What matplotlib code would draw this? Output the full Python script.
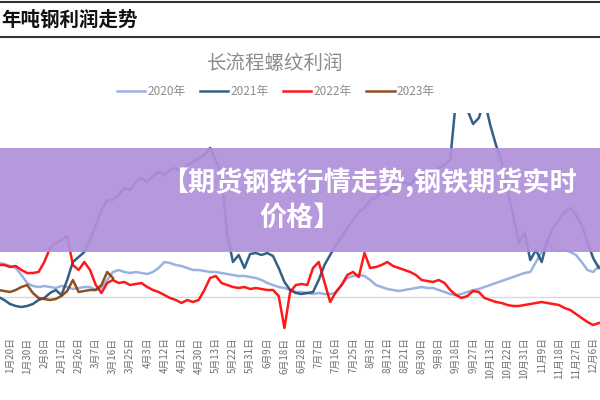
import numpy as np
import matplotlib
matplotlib.use("Agg")
import matplotlib.pyplot as plt
from matplotlib.patches import Rectangle
from matplotlib.lines import Line2D

plt.rcParams['font.family'] = ['Noto Sans CJK SC', 'DejaVu Sans']

# -----------------------------
# Data (元/吨)
# -----------------------------
dates = ["1月20日", "1月30日", "2月8日", "2月17日", "2月26日", "3月7日", "3月16日",
         "3月25日", "4月3日", "4月12日", "4月21日", "4月30日", "5月13日", "5月22日",
         "5月31日", "6月9日", "6月18日", "6月28日", "7月7日", "7月16日", "7月25日",
         "8月3日", "8月12日", "8月21日", "8月30日", "9月8日", "9月18日", "9月27日",
         "10月13日", "10月22日", "10月31日", "11月9日", "11月18日", "11月27日", "12月6日"]

profit_2020 = [340, 330, 310, 290, 220, 140, 110, 100, 110, 100,
               90, 110, 100, 80, 90, 100, 100, 70, 90, 170,
               250, 270, 250, 240, 250, 240, 230, 250, 290, 350,
               340, 320, 310, 290, 270, 270, 260, 250, 250, 240,
               230, 220, 210, 210, 200, 190, 170, 140, 120, 100,
               90, 70, 50, 50, 40, 30, 40, 30, 30, 40,
               120, 190, 210, 220, 210, 170, 120, 100, 80, 70,
               60, 70, 80, 90, 100, 90, 90, 70, 50, 30,
               20, 30, 50, 70, 80, 100, 120, 140, 160, 180,
               200, 220, 240, 250, 350, 450, 570, 470, 460, 470,
               450, 420, 350, 270, 250, 310]

profit_2021 = [0, -30, -70, -90, -100, -90, -70, -30, -10, 40,
               70, 20, 170, 350, 400, 450, 570, 720, 870, 970,
               970, 1020, 1090, 1070, 1150, 1190, 1150, 1210, 1250, 1220,
               1270, 1290, 1250, 1320, 1350, 1390, 1420, 1490, 1370, 1220,
               620, 350, 420, 290, 430, 440, 420, 440, 410, 290,
               150, 70, 40, 30, 40, 50, 170, 320, 420, 520,
               600, 690, 770, 850, 890, 970, 990, 1050, 1020, 1090,
               1120, 1150, 1120, 1190, 1220, 1250, 1220, 1290, 1320, 1370,
               1970, 2070, 1870, 1730, 1790, 1970, 1720, 1520, 1350, 1070,
               820, 540, 650, 370, 470, 350, 570, 690, 770, 850,
               890, 820, 720, 550, 390, 290]

profit_2022 = [320, 320, 300, 310, 270, 240, 240, 250, 350, 490,
               540, 570, 610, 320, 270, 350, 270, 120, 40, 140,
               170, 140, 150, 120, 130, 140, 100, 70, 50, 20,
               -10, -30, -60, -30, -50, -30, 70, 190, 210, 140,
               120, 100, 90, 100, 80, 90, 80, 70, 70, 10,
               -310, 50, 120, 130, 120, 290, 350, 150, -50, 50,
               120, 220, 250, 200, 440, 290, 300, 320, 350, 310,
               290, 270, 250, 220, 170, 160, 150, 170, 140, 70,
               20, -10, 10, 60, 50, -10, -30, -50, -60, -80,
               -90, -90, -80, -70, -60, -50, -60, -70, -80, -110,
               -130, -170, -210, -250, -280, -260]

profit_2023 = [70, 60, 50, 70, 100, 120, 40, -10, -20, -30,
               -20, 10, 60, 170, 50, 60, 70, 70, 120, 250, 190]

series = [("2020年", profit_2020, "#8FAADC"),
          ("2021年", profit_2021, "#1F4E79"),
          ("2022年", profit_2022, "#FF0000"),
          ("2023年", profit_2023, "#843C0C")]

# -----------------------------
# Figure
# -----------------------------
fig = plt.figure(figsize=(6, 4), dpi=100)
ax = fig.add_axes([0, 1 - 332 / 400, 1, (332 - 113) / 400])

for name, vals, color in series:
    x = np.arange(len(vals)) - 2
    ax.plot(x, vals, color=color, linewidth=1.8, label=name, alpha=0.9)

ax.axhline(0, color="#d9d9d9", linewidth=1, zorder=0)

ax.set_xlim(-1.75, 103.2)
ax.set_ylim(-350, 1840)
ax.set_xticks(np.arange(len(dates)) * 3)
ax.set_xticklabels(dates, rotation=90, fontsize=7, color="#6f6f6f")
ax.tick_params(axis="x", length=0, pad=4)
ax.set_yticks([])
for s in ax.spines.values():
    s.set_visible(False)

# chart title + legend
fig.text(0.458, 1 - 63 / 400, "长流程螺纹利润", ha="center", va="center",
         fontsize=14, color="#8c8c8c")
ax.legend(loc="center", bbox_to_anchor=(0.46, 1 - 92 / 400), bbox_transform=fig.transFigure,
          ncol=4, frameon=False, fontsize=8.5, handlelength=2.4, handletextpad=0.2,
          columnspacing=1.2, labelcolor="#8c8c8c")

# header bar of the screenshot
fig.add_artist(Line2D([0, 1], [1 - 1.5 / 400] * 2, color="#333333", linewidth=1.5))
fig.add_artist(Line2D([0, 1], [1 - 36.5 / 400] * 2, color="#333333", linewidth=1.5))
fig.text(0.003, 1 - 20 / 400, "年吨钢利润走势", ha="left", va="center",
         fontsize=14, fontweight="bold", color="#111111")

# purple banner overlay
fig.add_artist(Rectangle((0, 1 - 252 / 400), 1, 104 / 400, transform=fig.transFigure,
                         facecolor="#B190DB", alpha=0.93, edgecolor="none", zorder=10))
fig.text(0.615, 1 - 182 / 400, "【期货钢铁行情走势,钢铁期货实时", ha="center", va="center",
         fontsize=19.5, fontweight="bold", color="white", zorder=11)
fig.text(0.5, 1 - 218 / 400, "价格】", ha="center", va="center",
         fontsize=19.5, fontweight="bold", color="white", zorder=11)

fig.savefig("out.png", dpi=100)
